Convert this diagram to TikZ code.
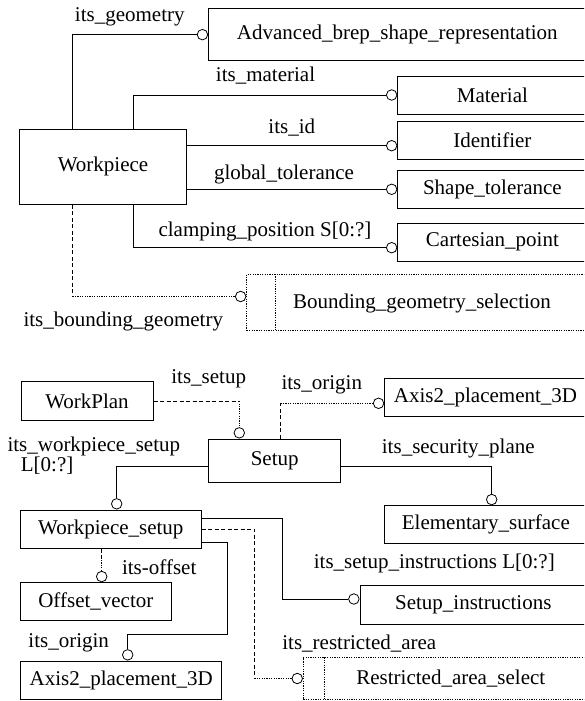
\documentclass[tikz,border=0pt]{standalone}
\usepackage{fontspec}
\setmainfont{Liberation Serif}
\begin{document}
\begin{tikzpicture}[x=1pt, y=-1pt,
  every node/.style={font=\fontsize{21}{19}\selectfont, inner sep=0pt},
  box/.style={draw, line width=1pt, align=center},
  selbox/.style={draw, line width=0.8pt, dash pattern=on 1.2pt off 1.2pt},
  ring/.style={circle, draw, fill=white, minimum size=10.5pt, line width=0.8pt},
  conn/.style={line width=0.8pt},
  dashA/.style={line width=0.8pt, dash pattern=on 4pt off 2.5pt},
  dotA/.style={line width=0.8pt, dash pattern=on 1.2pt off 1.2pt},
  lbl/.style={}]
\useasboundingbox (0,0) rectangle (584,701);
\clip (0,0) rectangle (584,701);

% ---------- guide positions ----------
\coordinate (gx1) at (72.6,0);
\coordinate (gx2) at (133.3,0);
\coordinate (gx3) at (280.5,0);
\coordinate (gx4) at (227.7,0);
\coordinate (gx5) at (282.7,0);
\coordinate (gx6) at (254.3,0);
\coordinate (gx7) at (239.3,0);
\coordinate (gx8) at (491.7,0);
\coordinate (gx9) at (116.7,0);
\coordinate (gx10) at (101.7,0);
\coordinate (gx11) at (127.7,0);
\coordinate (gxb) at (274.9,0);
\coordinate (gxr) at (324.3,0);
\coordinate (gy1) at (0,466.7);
\coordinate (gy2) at (0,560);
\coordinate (gy3) at (0,542.3);
\coordinate (gy4) at (0,634.3);
\coordinate (gy5) at (0,518.3);
\coordinate (gyid) at (0,145.7);
\coordinate (gyst) at (0,189.3);
\coordinate (gycp) at (0,247.7);
\coordinate (gybg) at (0,296.5);
\coordinate (gyax) at (0,403.3);
\coordinate (gysi) at (0,599);
\coordinate (gyra) at (0,678.5);

% ---------- upper diagram: Workpiece ----------
\node[box, minimum width=166.5, minimum height=75.3] (wp) at (103,166.65) {Workpiece};
\node[box, minimum width=377.4, minimum height=52.7] (adv) at (397.3,34.65) {Advanced\_brep\_shape\_representation};
\node[box, minimum width=189.2, minimum height=38] (mat) at (492.4,95) {Material};
\node[box, minimum width=189.2, minimum height=38] (idf) at (492.4,140) {Identifier};
\node[box, minimum width=189.2, minimum height=37.6] (shp) at (492.4,189.5) {Shape\_tolerance};
\node[box, minimum width=189.2, minimum height=37.7] (cart) at (492.4,242.2) {Cartesian\_point};
\node[selbox, minimum width=353.3, minimum height=56.4] (bnd) at (423.35,302.5) {};
\node (bndtxt) at (422,303.3) {Bounding\_geometry\_selection};
\draw[dotA] (bnd.north -| gxb) -- (bnd.south -| gxb);

\node[ring, anchor=east] (c1) at (adv.west) {};
\node[ring, anchor=east] (c2) at (mat.west) {};
\node[ring, anchor=east] (c3) at (idf.west |- gyid) {};
\node[ring, anchor=east] (c4) at (shp.west |- gyst) {};
\node[ring, anchor=east] (c5) at (cart.west |- gycp) {};
\node[ring, anchor=east] (c6) at (bnd.west |- gybg) {};

\draw[conn] (wp.north -| gx1) |- (c1.west);
\draw[conn] (wp.north -| gx2) |- (c2.west);
\draw[conn] (wp.east |- c3) -- (c3.west);
\draw[conn] (wp.east |- c4) -- (c4.west);
\draw[conn] (wp.south -| gx2) |- (c5.west);
\draw[dashA] (wp.south -| gx1) -- (gx1 |- c6);
\draw[dotA] (gx1 |- c6) -- (c6.west);

\node[lbl] (l1) at (129.8,16.7) {its\_geometry};
\node[lbl] (l2) at (265.5,76) {its\_material};
\node[lbl] (l3) at (291.8,127.7) {its\_id};
\node[lbl] (l4) at (284,174.3) {global\_tolerance};
\node[lbl] (l5) at (265,231.7) {clamping\_position S[0:?]};
\node[lbl] (l6) at (123.3,321.7) {its\_bounding\_geometry};

% ---------- lower diagram: Setup ----------
\node[box, minimum width=132, minimum height=38.8] (wpl) at (87,401.1) {WorkPlan};
\node[box, minimum width=132.2, minimum height=43.7] (setup) at (274.7,460.85) {Setup};
\node[box, minimum width=201.6, minimum height=38.4] (axu) at (485.5,397.5) {Axis2\_placement\_3D};
\node[box, minimum width=202.3, minimum height=37.6] (elem) at (485.85,524.5) {Elementary\_surface};
\node[box, minimum width=180.3, minimum height=38.3] (wps) at (110.85,529.15) {Workpiece\_setup};
\node[box, minimum width=150.3, minimum height=38] (off) at (95.85,601.7) {Offset\_vector};
\node[box, minimum width=226.6, minimum height=39] (si) at (473.3,604.5) {Setup\_instructions};
\node[box, minimum width=201, minimum height=38.3] (axl) at (121.2,680.15) {Axis2\_placement\_3D};
\node[selbox, minimum width=296.7, minimum height=41.3] (rs) at (451.65,678.35) {};
\node (rstxt) at (450.8,678.3) {Restricted\_area\_select};
\draw[dotA] (rs.north -| gxr) -- (rs.south -| gxr);

\node[ring, anchor=south] (c7) at (setup.north -| gx7) {};
\node[ring, anchor=east] (c8) at (axu.west |- gyax) {};
\node[ring, anchor=south] (c9) at (elem.north -| gx8) {};
\node[ring, anchor=south] (c10) at (wps.north -| gx9) {};
\node[ring, anchor=south] (c11) at (off.north -| gx10) {};
\node[ring, anchor=south] (c12) at (axl.north -| gx11) {};
\node[ring, anchor=east] (c13) at (si.west |- gysi) {};
\node[ring, anchor=east] (c14) at (rs.west |- gyra) {};

\draw[dashA] (wpl.east) -- (wpl.east -| c7);
\draw[dotA] (wpl.east -| c7) -- (c7.north);
\draw[dashA] (setup.north -| gx3) -- (gx3 |- c8);
\draw[dotA] (gx3 |- c8) -- (c8.west);
\draw[conn] (setup.east |- gy1) -| (c9.north);
\draw[conn] (setup.west |- gy1) -| (c10.north);
\draw[dashA] (wps.south -| c11) -- (gy2 -| c11);
\draw[dotA] (gy2 -| c11) -- (c11.north);
\draw[conn] (wps.east |- gy3) -| (gx4 |- gy4) -| (c12.north);
\draw[conn] (wps.east |- gy5) -| (gx5 |- c13) -- (c13.west);
\draw[dashA] (wps.east) -| (gx6 |- c14);
\draw[dotA] (gx6 |- c14) -- (c14.west);

\node[lbl] (m1) at (208.7,379) {its\_setup};
\node[lbl] (m2) at (321.8,385) {its\_origin};
\node[lbl] (m3) at (458.3,448.3) {its\_security\_plane};
\node[lbl, align=left, anchor=west] (m4) at (7.3,456) {its\_workpiece\_setup\\\hspace*{13.4pt}L[0:?]};
\node[lbl] (m5) at (159.2,567.3) {its-offset};
\node[lbl] (m6) at (68.7,643.3) {its\_origin};
\node[lbl] (m7) at (434.3,563.3) {its\_setup\_instructions L[0:?]};
\node[lbl] (m8) at (359.3,643.3) {its\_restricted\_area};
\end{tikzpicture}
\end{document}
